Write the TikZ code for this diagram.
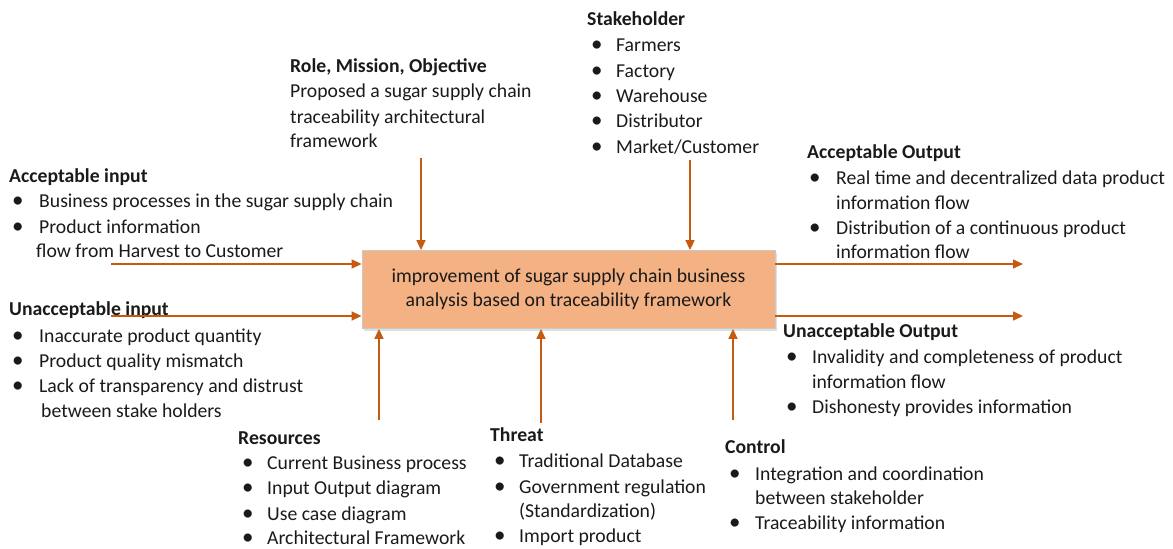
\documentclass[tikz,border=0pt]{standalone}
\usepackage{fontspec}
\setmainfont{Carlito}
\usetikzlibrary{arrows.meta,shadows}
\definecolor{arrc}{HTML}{C55A11}
\definecolor{boxc}{HTML}{F4B183}
\definecolor{boxb}{HTML}{C9C9C9}
\definecolor{txtc}{HTML}{1A1A1A}
\begin{document}
\begin{tikzpicture}[x=1pt,y=-1pt,
  txt/.style={anchor=base west,inner sep=0pt,text=txtc,font=\fontsize{19.7}{24}\selectfont},
  hdr/.style={anchor=base west,inner sep=0pt,text=txtc,font=\fontsize{19.7}{24}\selectfont\bfseries},
  bul/.style={anchor=base west,inner sep=0pt,text=txtc,font=\fontsize{23}{24}\selectfont},
  arr/.style={draw=arrc,line width=1.5pt,-{Triangle[length=10pt,width=9pt]}},
  mainbox/.style={draw=boxb,line width=0.8pt,fill=boxc,minimum width=413pt,minimum height=78pt,
    inner sep=0pt,align=center,text=txtc,font=\fontsize{19.7}{24}\selectfont,
    drop shadow={shadow xshift=2pt,shadow yshift=-2pt,opacity=0.25}}]
\useasboundingbox (0,0) rectangle (1173,549);

% central box
\node[mainbox] (box) at (568.5,289.5) {improvement of sugar supply chain business\\analysis based on traceability framework};

% Stakeholder
\node[hdr] (sh) at (587,25) {Stakeholder};
\node[bul] (shb1) at (591,51) {•}; \node[txt] (sh1) at (616,51) {Farmers};
\node[bul] (shb2) at (591,77) {•}; \node[txt] (sh2) at (616,77) {Factory};
\node[bul] (shb3) at (591,102) {•}; \node[txt] (sh3) at (616,102) {Warehouse};
\node[bul] (shb4) at (591,127) {•}; \node[txt] (sh4) at (616,127) {Distributor};
\node[bul] (shb5) at (591,153) {•}; \node[txt] (sh5) at (616,153) {Market/Customer};

% Role
\node[hdr] (rm) at (290,72) {Role, Mission, Objective};
\node[txt] (rm1) at (290,97) {Proposed a sugar supply chain};
\node[txt] (rm2) at (290,123) {traceability architectural};
\node[txt] (rm3) at (290,147) {framework};

% Acceptable input
\node[hdr] (ai) at (9,182) {Acceptable input};
\node[bul] (aib1) at (12,207) {•}; \node[txt] (ai1) at (39,207) {Business processes in the sugar supply chain};
\node[bul] (aib2) at (12,233) {•}; \node[txt] (ai2) at (39,233) {Product information};
\node[txt] (ai3) at (36,257) {flow from Harvest to Customer};

% Unacceptable input
\node[hdr] (ui) at (9,315) {Unacceptable input};
\node[bul] (uib1) at (12,342) {•}; \node[txt] (ui1) at (39,342) {Inaccurate product quantity};
\node[bul] (uib2) at (12,367) {•}; \node[txt] (ui2) at (39,367) {Product quality mismatch};
\node[bul] (uib3) at (12,392) {•}; \node[txt] (ui3) at (39,392) {Lack of transparency and distrust};
\node[txt] (ui4) at (41,417) {between stake holders};

% Acceptable Output
\node[hdr] (ao) at (807,158) {Acceptable Output};
\node[bul] (aob1) at (809,184) {•}; \node[txt] (ao1) at (836,184) {Real time and decentralized data product};
\node[txt] (ao2) at (836,209) {information flow};
\node[bul] (aob2) at (809,234) {•}; \node[txt] (ao3) at (836,234) {Distribution of a continuous product};
\node[txt] (ao4) at (836,258) {information flow};

% Unacceptable Output
\node[hdr] (uo) at (783,337) {Unacceptable Output};
\node[bul] (uob1) at (786,363) {•}; \node[txt] (uo1) at (812,363) {Invalidity and completeness of product};
\node[txt] (uo2) at (812,388) {information flow};
\node[bul] (uob2) at (786,413) {•}; \node[txt] (uo3) at (812,413) {Dishonesty provides information};

% Control
\node[hdr] (ct) at (725,453) {Control};
\node[bul] (ctb1) at (729,480) {•}; \node[txt] (ct1) at (755,480) {Integration and coordination};
\node[txt] (ct2) at (755,504) {between stakeholder};
\node[bul] (ctb2) at (729,529) {•}; \node[txt] (ct3) at (755,529) {Traceability information};

% Resources
\node[hdr] (rs) at (238,444) {Resources};
\node[bul] (rsb1) at (242,469) {•}; \node[txt] (rs1) at (267,469) {Current Business process};
\node[bul] (rsb2) at (242,494) {•}; \node[txt] (rs2) at (267,494) {Input Output diagram};
\node[bul] (rsb3) at (242,520) {•}; \node[txt] (rs3) at (267,520) {Use case diagram};
\node[bul] (rsb4) at (242,544) {•}; \node[txt] (rs4) at (267,544) {Architectural Framework};

% Threat
\node[hdr] (th) at (490,441) {Threat};
\node[bul] (thb1) at (494,467) {•}; \node[txt] (th1) at (519,467) {Traditional Database};
\node[bul] (thb2) at (494,493) {•}; \node[txt] (th2) at (519,493) {Government regulation};
\node[txt] (th3) at (519,517) {(Standardization)};
\node[bul] (thb3) at (494,542) {•}; \node[txt] (th4) at (519,542) {Import product};

% arrow free ends
\coordinate (a1) at (111,264);
\coordinate (a2) at (111,316);
\coordinate (b1) at (1023,264);
\coordinate (b2) at (1023,316);
\coordinate (t1) at (421,158);
\coordinate (t2) at (690,160);
\coordinate (u1) at (379,420);
\coordinate (u2) at (541,423);
\coordinate (u3) at (733,420);

\draw[arr] (a1) -- (a1 -| box.west);
\draw[arr] (a2) -- (a2 -| box.west);
\draw[arr] (b1 -| box.east) -- (b1);
\draw[arr] (b2 -| box.east) -- (b2);
\draw[arr] (t1) -- (t1 |- box.north);
\draw[arr] (t2) -- (t2 |- box.north);
\draw[arr] (u1) -- (u1 |- box.south);
\draw[arr] (u2) -- (u2 |- box.south);
\draw[arr] (u3) -- (u3 |- box.south);
\end{tikzpicture}
\end{document}
